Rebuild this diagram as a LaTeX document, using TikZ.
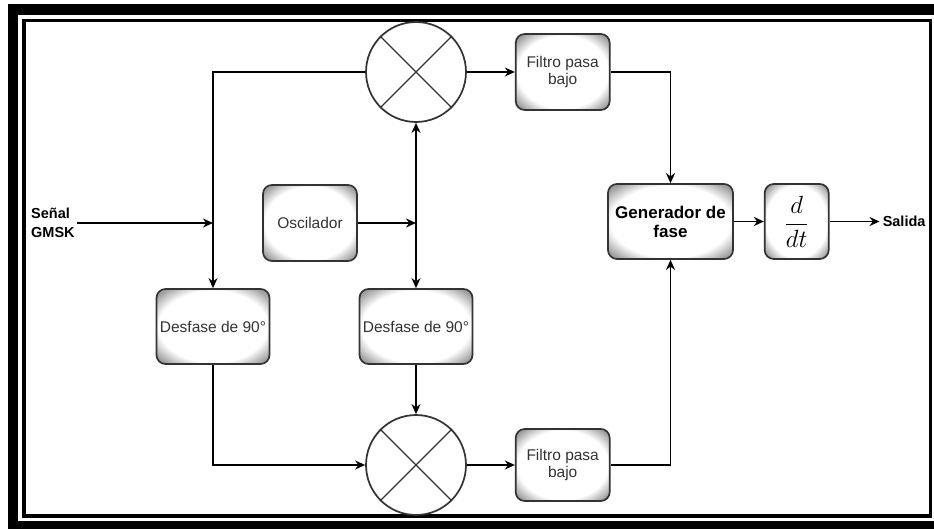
\documentclass[tikz,border=0pt]{standalone}
\usepackage{fontspec}
\setmainfont{Liberation Sans}
\usetikzlibrary{arrows.meta,positioning}
\pgfdeclareradialshading{glow}{\pgfpoint{0bp}{0bp}}{color(0bp)=(white); color(24bp)=(white); color(32bp)=(black!38); color(50bp)=(black!38)}

\begin{document}
\begin{tikzpicture}[
  x=1pt, y=-1pt,
  blk/.style={
    draw=black!80, line width=1.7pt, rectangle, rounded corners=9pt,
    shading=glow, text=black!80, align=center,
    minimum width=94pt, minimum height=76pt,
    font=\fontsize{15.5}{17}\selectfont
  },
  mix/.style={draw=black!80, line width=1.7pt, circle, shading=glow, minimum size=100pt, inner sep=0pt},
  lbl/.style={font=\fontsize{14.5}{19}\selectfont\bfseries, align=left, inner sep=2pt},
  arr/.style={-{Stealth[length=10pt,width=9pt]}, line width=1.8pt},
  both/.style={{Stealth[length=10pt,width=9pt]}-{Stealth[length=10pt,width=9pt]}, line width=1.8pt}
]
  % frame
  \useasboundingbox (0,0) rectangle (934,529);
  \fill[black] (8,4) rectangle (934,529);
  \fill[white] (18,15) rectangle (934,521);
  \draw[line width=3.5pt] (24,20.5) rectangle (930.5,516);

  \node[mix] (mixA) at (416,72) {};
  \node[mix] (mixB) at (416,465) {};
  \node[blk] (osc) at (310,223) {Oscilador};
  \node[blk, minimum width=113pt, minimum height=75pt] (desA) at (213,326.5) {Desfase de 90°};
  \node[blk, minimum width=113pt, minimum height=75pt] (desB) at (416,326.5) {Desfase de 90°};
  \node[blk] (filA) [right=48pt of mixA] {Filtro pasa\\bajo};
  \node[blk, minimum height=72pt] (filB) [right=48pt of mixB] {Filtro pasa\\bajo};
  \node[blk, minimum width=125pt, minimum height=75pt, text=black,
        font=\fontsize{17}{19}\selectfont\bfseries] (gen) at (670.5,221.5) {Generador de\\fase};
  \node[blk, minimum width=64pt, minimum height=75pt, text=black,
        font=\fontsize{23}{26}\selectfont] (ddt) [right=30pt of gen] {$\displaystyle\frac{d}{dt}$};
  \node[lbl, anchor=west] (sig) at (29,223) {Señal\\GMSK};
  \node[lbl, inner sep=3pt] (out) [right=50pt of ddt] {Salida};

  \foreach \m in {mixA,mixB}
    \draw[line width=1.4pt, black!80] (\m.45) -- (\m.225) (\m.135) -- (\m.315);

  \coordinate (inA) at (desA.north |- sig.east);
  \draw[arr] (sig.east) -- (inA);
  \draw[arr] (osc) -- (osc -| mixA);
  \draw[both] (mixA) -- (desB);
  \draw[arr] (mixA.west) -| (desA.north);
  \draw[arr] (desA.south) |- (mixB.west);
  \draw[arr] (desB) -- (mixB);
  \draw[arr] (mixA) -- (filA);
  \draw[arr] (mixB) -- (filB);
  \draw[arr] (filA.east) -| (gen.north);
  \draw[arr] (filB.east) -| (gen.south);
  \draw[arr] (gen) -- (ddt);
  \draw[arr] (ddt) -- (out);
\end{tikzpicture}
\end{document}
